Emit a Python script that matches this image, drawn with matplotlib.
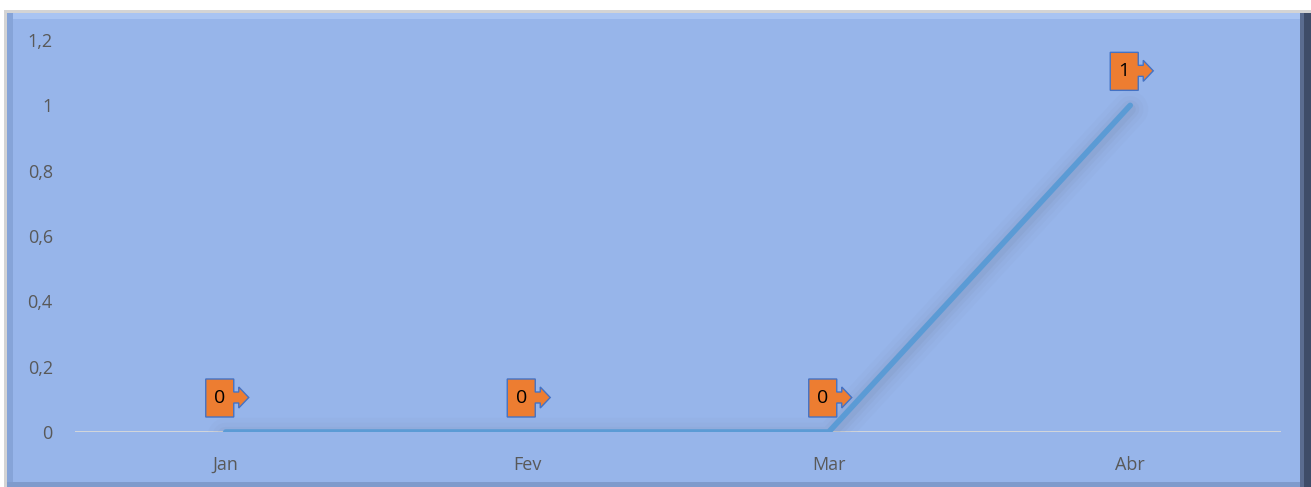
import matplotlib.pyplot as plt
from matplotlib.patches import Rectangle, Polygon
from matplotlib.ticker import FuncFormatter

months = ['Jan', 'Fev', 'Mar', 'Abr']
values = [0, 0, 0, 1]
y_ticks = [0, 0.2, 0.4, 0.6, 0.8, 1.0, 1.2]

W, H = 1311, 487
fig = plt.figure(figsize=(W / 100, H / 100), dpi=100)
fig.patch.set_facecolor('white')

# frame with bevel (figure pixel coords, y down)
def frect(x0, y0, x1, y1, color):
    fig.patches.append(Rectangle((x0 / W, 1 - y1 / H), (x1 - x0) / W, (y1 - y0) / H,
                                 transform=fig.transFigure, facecolor=color,
                                 edgecolor='none', zorder=-5))

frect(4, 10, 1311, 487, '#D4D4D4')
frect(7, 13, 1311, 487, '#97B5EA')
frect(7, 13, 1311, 19, '#A9C4F2')
frect(7, 13, 13, 487, '#86A4D8')
frect(7, 482, 1311, 487, '#7F9BCC')
frect(1300, 13, 1311, 487, '#5A6C90')
frect(1304, 13, 1311, 487, '#3E4C68')

ax = fig.add_axes([75 / W, 55 / H, 1206 / W, 392 / H])
ax.set_facecolor('none')
ax.set_xlim(-0.5, 3.5)
ax.set_ylim(0, 1.2)
for s in ax.spines.values():
    s.set_visible(False)

ax.axhline(0, color='#D9D9D9', linewidth=2, zorder=1)

x = list(range(len(months)))
# soft shadow under the line
for lw, a in [(26, 0.04), (19, 0.05), (13, 0.07), (8, 0.1)]:
    ax.plot(x, [v - 0.012 for v in values], color='#6E7F99', linewidth=lw,
            alpha=a, solid_capstyle='round', zorder=2)
ax.plot(x, values, color='#5B9BD5', linewidth=4, solid_capstyle='round', zorder=3)

ax.set_xticks(x)
ax.set_xticklabels(months)
ax.set_yticks(y_ticks)
ax.yaxis.set_major_formatter(FuncFormatter(lambda v, p: f'{v:g}'.replace('.', ',')))
ax.tick_params(length=0, labelsize=13, labelcolor='#595959', colors='#595959')
ax.tick_params(axis='y', pad=16)
ax.tick_params(axis='x', pad=17)
for lab in ax.get_xticklabels() + ax.get_yticklabels():
    lab.set_family('Open Sans')

# data label callouts (pixel offsets from data point)
shape = [(-20, 15), (8, 15), (8, 29), (13, 29), (13, 24), (23, 34.5), (13, 45),
         (13, 40), (8, 40), (8, 53), (-20, 53)]
for xi, v in zip(x, values):
    px, py = ax.transData.transform((xi, v))
    verts = [(px + dx, py + dy) for dx, dy in shape]
    fig.patches.append(Polygon(verts, closed=True, transform=None,
                               facecolor='#ED7D31', edgecolor='#4472C4',
                               linewidth=1, zorder=5))
    fig.text((px - 6) / W, (py + 34) / H, f'{v:g}', ha='center', va='center',
             fontsize=14, color='black', family='Open Sans', zorder=6)

fig.savefig('out.png', dpi=100)
